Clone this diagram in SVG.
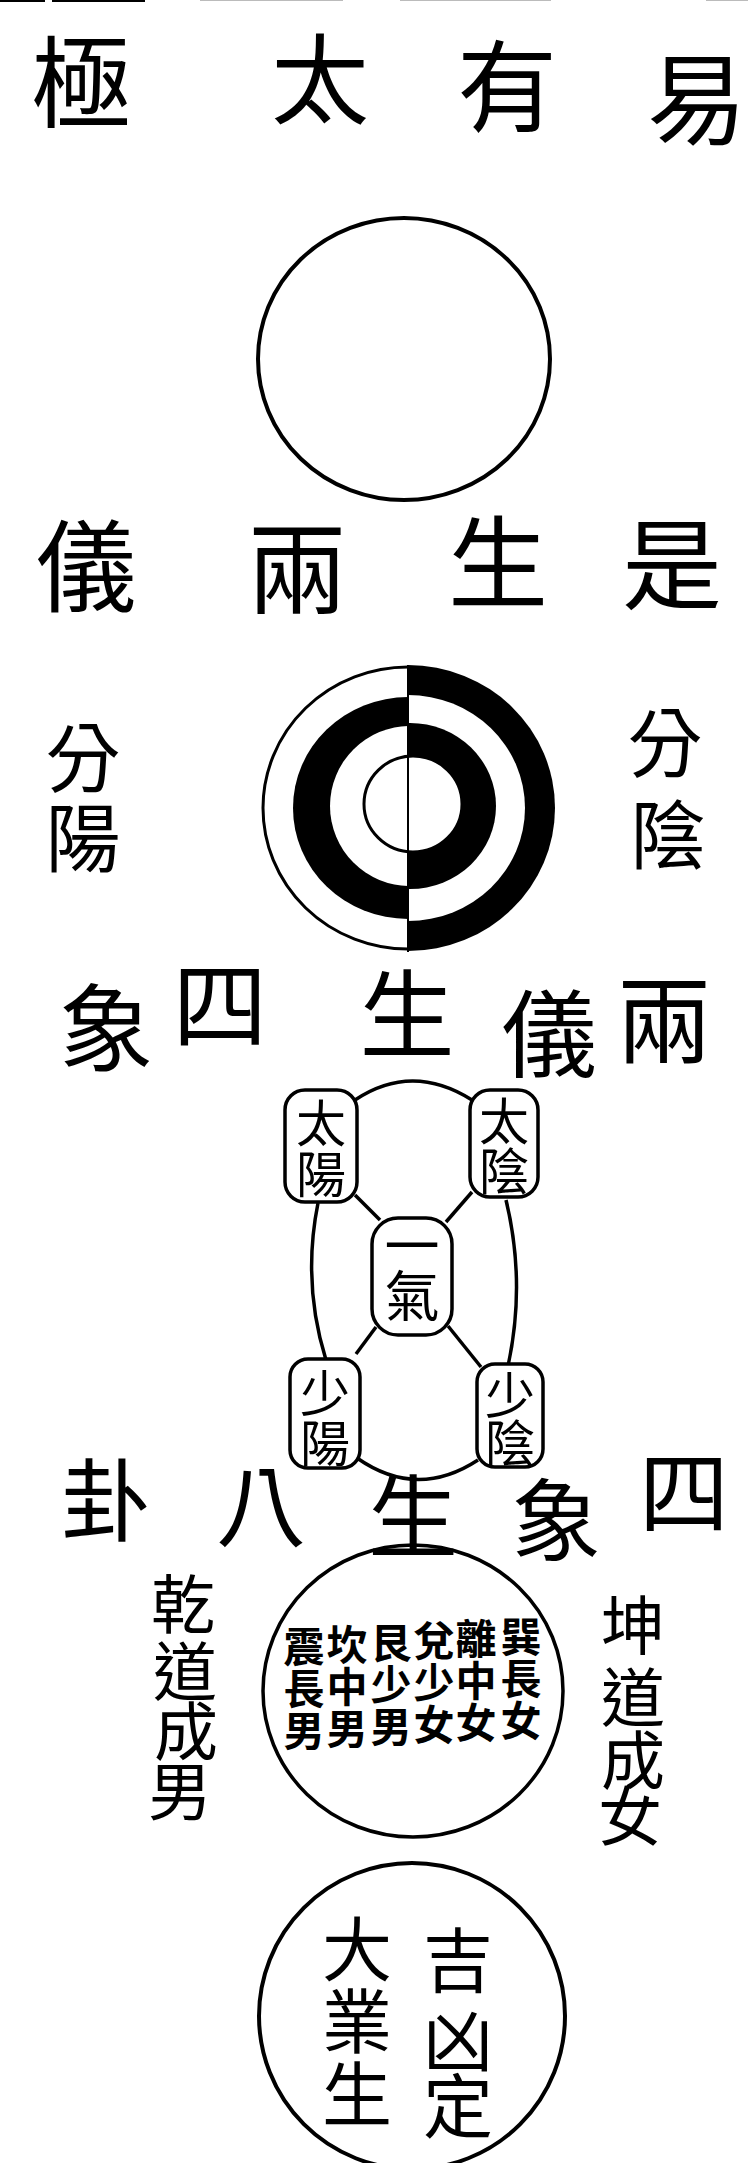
<svg xmlns="http://www.w3.org/2000/svg" width="748" height="2163" viewBox="0 0 748 2163">
<style>
.t{font-family:"Noto Sans CJK TC","Noto Sans CJK SC",sans-serif;fill:#000;text-anchor:middle;dominant-baseline:central}
.big{font-size:100px}
.r3{font-size:95px}
.r4{font-size:90px}
.side{font-size:75px}
.box{font-size:50px}
.gua{font-size:41px;font-weight:bold}
.col{font-size:64px}
.fin{font-size:70px}
.ln{fill:none;stroke:#000;stroke-width:3.5}
.bx{fill:#fff;stroke:#000;stroke-width:3.5}
</style>
<defs>
<clipPath id="leftHalf"><rect x="0" y="600" width="408" height="400"/></clipPath>
<clipPath id="rightHalf"><rect x="408" y="600" width="340" height="400"/></clipPath>
</defs>
<rect width="748" height="2163" fill="#fff"/>
<g id="page-top">
<rect x="0" y="0" width="45" height="2" fill="#000"/>
<rect x="52" y="0" width="93" height="2" fill="#000"/>
<rect x="200" y="0" width="143" height="1" fill="#bbb"/>
<rect x="400" y="0" width="151" height="1" fill="#bbb"/>
<rect x="706" y="0" width="42" height="1" fill="#bbb"/>
</g>
<g id="row1">
<text class="t big" x="81" y="76">極</text>
<text class="t big" x="320" y="73" style="font-size:98px">太</text>
<text class="t big" x="507" y="80">有</text>
<text class="t big" x="697" y="93">易</text>
</g>
<g id="taiji">
<ellipse cx="404" cy="359" rx="146" ry="141" fill="none" stroke="#000" stroke-width="4"/>
</g>
<g id="row2">
<text class="t big" x="86" y="560">儀</text>
<text class="t big" x="297" y="562">兩</text>
<text class="t big" x="498" y="556">生</text>
<text class="t big" x="672" y="558">是</text>
</g>
<g id="liangyi">
<g clip-path="url(#rightHalf)">
<ellipse cx="408" cy="808" rx="147" ry="143" fill="#000"/>
<ellipse cx="408" cy="808" rx="117" ry="113" fill="#fff"/>
<ellipse cx="410" cy="806" rx="86" ry="83" fill="#000"/>
</g>
<g clip-path="url(#leftHalf)">
<ellipse cx="408" cy="808" rx="145" ry="141" fill="#fff" stroke="#000" stroke-width="3"/>
<ellipse cx="408" cy="808" rx="115" ry="111" fill="#000"/>
<ellipse cx="410" cy="806" rx="80" ry="80" fill="#fff"/>
</g>
<ellipse cx="413" cy="804" rx="49" ry="48" fill="#fff" stroke="#000" stroke-width="3"/>
<line x1="408" y1="665" x2="408" y2="952" stroke="#000" stroke-width="2"/>
</g>
<g id="yang-label">
<text class="t side" x="83" y="753">分</text>
<text class="t side" x="83" y="833">陽</text>
</g>
<g id="yin-label">
<text class="t side" x="665" y="738">分</text>
<text class="t side" x="668" y="830">陰</text>
</g>
<g id="row3">
<text class="t r3" x="106" y="1022">象</text>
<text class="t r3" x="220" y="999">四</text>
<text class="t r3" x="407" y="1008">生</text>
<text class="t r3" x="549" y="1028">儀</text>
<text class="t r3" x="664" y="1014">兩</text>
</g>
<g id="connectors">
<path class="ln" d="M355,1100 Q412,1062 472,1100"/>
<path class="ln" d="M355,1195 L380,1220"/>
<path class="ln" d="M472,1192 L446,1222"/>
<path class="ln" d="M376,1327 L356,1354"/>
<path class="ln" d="M448,1326 L481,1367"/>
<path class="ln" d="M318,1203 Q302,1283 326,1360"/>
<path class="ln" d="M506,1200 Q526,1283 508,1366"/>
<path class="ln" d="M357,1458 Q417,1500 478,1460"/>
</g>
<g id="taiyang">
<rect class="bx" x="285" y="1090" width="72" height="112" rx="20"/>
<text class="t box" x="321" y="1120">太</text>
<text class="t box" x="321" y="1171">陽</text>
</g>
<g id="taiyin">
<rect class="bx" x="470" y="1090" width="68" height="107" rx="20"/>
<text class="t box" x="504" y="1118">太</text>
<text class="t box" x="504" y="1168">陰</text>
</g>
<g id="yiqi">
<rect class="bx" x="372" y="1218" width="80" height="117" rx="26"/>
<text class="t box" x="412" y="1242" style="font-size:55px">一</text>
<text class="t box" x="412" y="1292" style="font-size:55px">氣</text>
</g>
<g id="shaoyang">
<rect class="bx" x="290" y="1359" width="70" height="109" rx="18"/>
<text class="t box" x="325" y="1390">少</text>
<text class="t box" x="325" y="1440">陽</text>
</g>
<g id="shaoyin">
<rect class="bx" x="477" y="1364" width="66" height="103" rx="18"/>
<text class="t box" x="510" y="1392">少</text>
<text class="t box" x="510" y="1440">陰</text>
</g>
<g id="row4">
<text class="t r4" x="106" y="1495">卦</text>
<text class="t r4" x="261" y="1500">八</text>
<text class="t r4" x="413" y="1511">生</text>
<text class="t r4" x="556" y="1515">象</text>
<text class="t r4" x="684" y="1487">四</text>
</g>
<g id="bagua">
<ellipse cx="413" cy="1691" rx="150" ry="146" fill="none" stroke="#000" stroke-width="3.5"/>
<text class="t gua" x="304" y="1644">震</text><text class="t gua" x="304" y="1686">長</text><text class="t gua" x="304" y="1728">男</text>
<text class="t gua" x="347" y="1642">坎</text><text class="t gua" x="347" y="1684">中</text><text class="t gua" x="347" y="1726">男</text>
<text class="t gua" x="391" y="1640">艮</text><text class="t gua" x="391" y="1682">少</text><text class="t gua" x="391" y="1724">男</text>
<text class="t gua" x="434" y="1638">兌</text><text class="t gua" x="434" y="1680">少</text><text class="t gua" x="434" y="1722">女</text>
<text class="t gua" x="476" y="1636">離</text><text class="t gua" x="476" y="1678">中</text><text class="t gua" x="476" y="1720">女</text>
<text class="t gua" x="521" y="1634">巽</text><text class="t gua" x="521" y="1676">長</text><text class="t gua" x="521" y="1718">女</text>
</g>
<g id="qian-label">
<text class="t col" x="183" y="1600">乾</text>
<text class="t col" x="185" y="1667">道</text>
<text class="t col" x="186" y="1727">成</text>
<text class="t col" x="180" y="1787">男</text>
</g>
<g id="kun-label">
<text class="t col" x="633" y="1621">坤</text>
<text class="t col" x="633" y="1693">道</text>
<text class="t col" x="633" y="1756">成</text>
<text class="t col" x="630" y="1812">女</text>
</g>
<g id="daye">
<circle cx="412" cy="2016" r="153" fill="none" stroke="#000" stroke-width="4"/>
<text class="t fin" x="357" y="1945">大</text>
<text class="t fin" x="357" y="2017">業</text>
<text class="t fin" x="357" y="2090">生</text>
<text class="t fin" x="458" y="1956">吉</text>
<text class="t fin" x="458" y="2036">凶</text>
<text class="t fin" x="458" y="2102">定</text>
</g>
</svg>
